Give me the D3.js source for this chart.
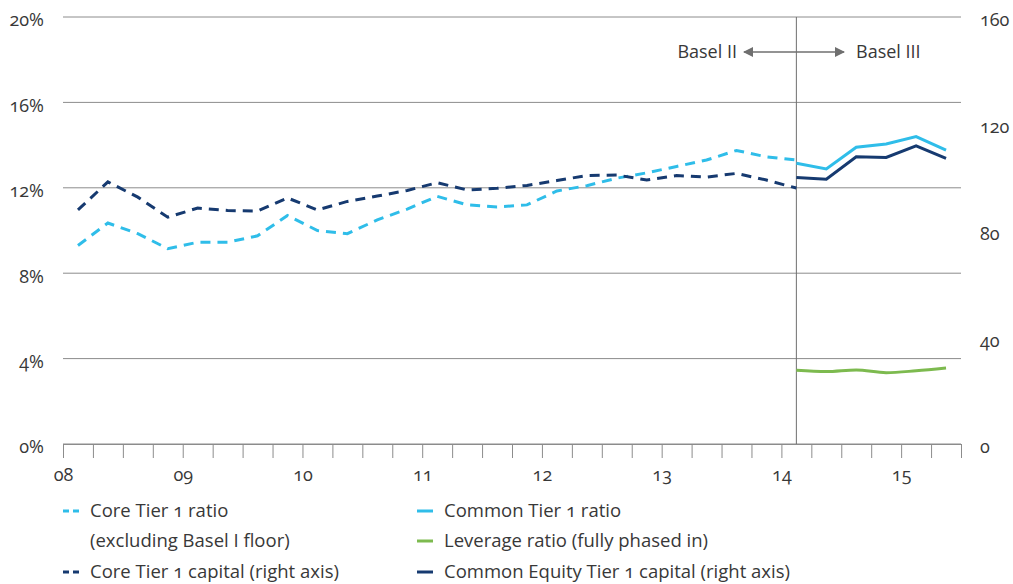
<!DOCTYPE html>
<html>
<head>
<meta charset="utf-8">
<script src="https://cdn.jsdelivr.net/npm/d3@7"></script>
<style>
  body { margin: 0; background: #fff; }
  svg text { font-family: "Open Sans", sans-serif; font-variant-numeric: oldstyle-nums; fill: #383838; }
</style>
</head>
<body>
<div id="chart"></div>
<script>
// quarterly data, 08 Q1 .. 15 Q2
const yearLabels = ["08", "09", "10", "11", "12", "13", "14", "15"];
const leftTicks = [0, 4, 8, 12, 16, 20];
const rightTicks = [0, 40, 80, 120, 160];

// Basel II (quarters 0..24)
const coreTier1Ratio = [9.3, 10.35, 9.85, 9.15, 9.45, 9.45, 9.75, 10.7, 10.0, 9.85,
  10.5, 11.0, 11.6, 11.2, 11.1, 11.2, 11.85, 12.1, 12.45, 12.7, 13.0, 13.3, 13.75, 13.45, 13.3];
const coreTier1Capital = [87.7, 98.2, 92.5, 85.0, 88.4, 87.5, 87.3, 92.2, 87.7, 90.9,
  92.9, 95.0, 97.9, 95.2, 95.8, 96.9, 98.7, 100.6, 100.8, 98.9, 100.6, 100.0, 101.4, 98.9, 95.9];

// Basel III (quarters 24..29)
const commonTier1Ratio = [13.15, 12.88, 13.9, 14.05, 14.4, 13.77];
const leverageRatio = [3.45, 3.39, 3.47, 3.34, 3.43, 3.56];
const cet1Capital = [99.9, 99.2, 107.6, 107.4, 111.7, 107.0];

const baselIIIStart = 24;
const nQuarters = 30;

const W = 1013, H = 584;
const plotLeft = 63, plotRight = 961, plotTop = 17, plotBottom = 444;
const fontSize = "18px";

const svg = d3.select("#chart")
  .append("svg")
  .attr("width", W)
  .attr("height", H);

const x = d3.scaleLinear().domain([0, nQuarters]).range([plotLeft, plotRight]);
const yL = d3.scaleLinear().domain([0, 20]).range([plotBottom, plotTop]);
const yR = d3.scaleLinear().domain([0, 160]).range([plotBottom, plotTop]);

const cyan = "#2fbde9", navy = "#163a70", green = "#7dba4f", grid = "#8c8c8c";

// gridlines
svg.append("g")
  .selectAll("line")
  .data(leftTicks)
  .enter()
  .append("line")
  .attr("x1", plotLeft)
  .attr("x2", plotRight)
  .attr("y1", d => yL(d))
  .attr("y2", d => yL(d))
  .attr("stroke", grid)
  .attr("stroke-width", 1);

// left labels
svg.append("g")
  .selectAll("text")
  .data(leftTicks)
  .enter()
  .append("text")
  .attr("x", 44)
  .attr("y", d => yL(d) + 3)
  .attr("dy", "0.35em")
  .attr("text-anchor", "end")
  .style("font-size", fontSize)
  .text(d => d + "%");

// right labels
svg.append("g")
  .selectAll("text")
  .data(rightTicks)
  .enter()
  .append("text")
  .attr("x", 980)
  .attr("y", d => yR(d) + 3)
  .attr("dy", "0.35em")
  .style("font-size", fontSize)
  .text(d => d);

// x axis
const xAxis = d3.axisBottom(x)
  .tickValues(d3.range(0, nQuarters + 1))
  .tickSize(14)
  .tickFormat(d => d % 4 === 0 ? yearLabels[d / 4] : "");

const gx = svg.append("g")
  .attr("transform", `translate(0,${plotBottom})`)
  .call(xAxis);
gx.select(".domain").attr("stroke", grid);
gx.selectAll(".tick line").attr("stroke", grid);
gx.selectAll(".tick text")
  .attr("y", 24)
  .attr("fill", "#383838")
  .style("font-size", fontSize)
  .style("font-family", "\"Open Sans\", sans-serif");

// Basel divider
svg.append("line")
  .attr("x1", x(baselIIIStart + 0.5))
  .attr("x2", x(baselIIIStart + 0.5))
  .attr("y1", plotTop)
  .attr("y2", plotBottom)
  .attr("stroke", "#6f6f6f")
  .attr("stroke-width", 1);

// arrow
const defs = svg.append("defs");
defs.append("marker")
  .attr("id", "arr")
  .attr("viewBox", "0 0 10 10")
  .attr("refX", 9)
  .attr("refY", 5)
  .attr("markerWidth", 10)
  .attr("markerHeight", 10)
  .attr("markerUnits", "userSpaceOnUse")
  .attr("orient", "auto-start-reverse")
  .append("path")
  .attr("d", "M0,0 L10,5 L0,10 Z")
  .attr("fill", "#6f6f6f");

svg.append("line")
  .attr("x1", 744)
  .attr("x2", 844)
  .attr("y1", 52)
  .attr("y2", 52)
  .attr("stroke", "#6f6f6f")
  .attr("stroke-width", 1.3)
  .attr("marker-start", "url(#arr)")
  .attr("marker-end", "url(#arr)");

svg.append("text")
  .attr("x", 737)
  .attr("y", 52)
  .attr("dy", "0.35em")
  .attr("text-anchor", "end")
  .style("font-size", fontSize)
  .text("Basel II");

svg.append("text")
  .attr("x", 856)
  .attr("y", 52)
  .attr("dy", "0.35em")
  .style("font-size", fontSize)
  .text("Basel III");

// series
function addLine(values, start, scale, color, dash, curve) {
  const line = d3.line()
    .x((d, i) => x(start + i + 0.5))
    .y(d => scale(d))
    .curve(curve || d3.curveLinear);
  svg.append("path")
    .datum(values)
    .attr("d", line)
    .attr("fill", "none")
    .attr("stroke", color)
    .attr("stroke-width", 3)
    .attr("stroke-dasharray", dash || null);
}

addLine(coreTier1Ratio, 0, yL, cyan, "10,7");
addLine(coreTier1Capital, 0, yR, navy, "10,7");
addLine(commonTier1Ratio, baselIIIStart, yL, cyan);
addLine(leverageRatio, baselIIIStart, yL, green, null, d3.curveMonotoneX);
addLine(cet1Capital, baselIIIStart, yR, navy);

// legend
const legendItems = [
  {label: "Core Tier 1 ratio", color: cyan, dash: true, col: 0, row: 0},
  {label: "(excluding Basel I floor)", color: null, dash: true, col: 0, row: 1},
  {label: "Core Tier 1 capital (right axis)", color: navy, dash: true, col: 0, row: 2},
  {label: "Common Tier 1 ratio", color: cyan, dash: false, col: 1, row: 0},
  {label: "Leverage ratio (fully phased in)", color: green, dash: false, col: 1, row: 1},
  {label: "Common Equity Tier 1 capital (right axis)", color: navy, dash: false, col: 1, row: 2}
];
const colX = [63, 417];
const rowY = [511, 541, 572];

const lg = svg.append("g")
  .selectAll("g")
  .data(legendItems)
  .enter()
  .append("g")
  .attr("transform", d => `translate(${colX[d.col]},${rowY[d.row]})`);

lg.filter(d => d.color)
  .append("line")
  .attr("x1", 0)
  .attr("x2", 16)
  .attr("y1", 0)
  .attr("y2", 0)
  .attr("stroke", d => d.color)
  .attr("stroke-width", 3)
  .attr("stroke-dasharray", d => d.dash ? "6,4" : null);

lg.append("text")
  .attr("x", 27)
  .attr("y", 0)
  .attr("dy", "0.35em")
  .style("font-size", "18.5px")
  .text(d => d.label);
</script>
</body>
</html>
